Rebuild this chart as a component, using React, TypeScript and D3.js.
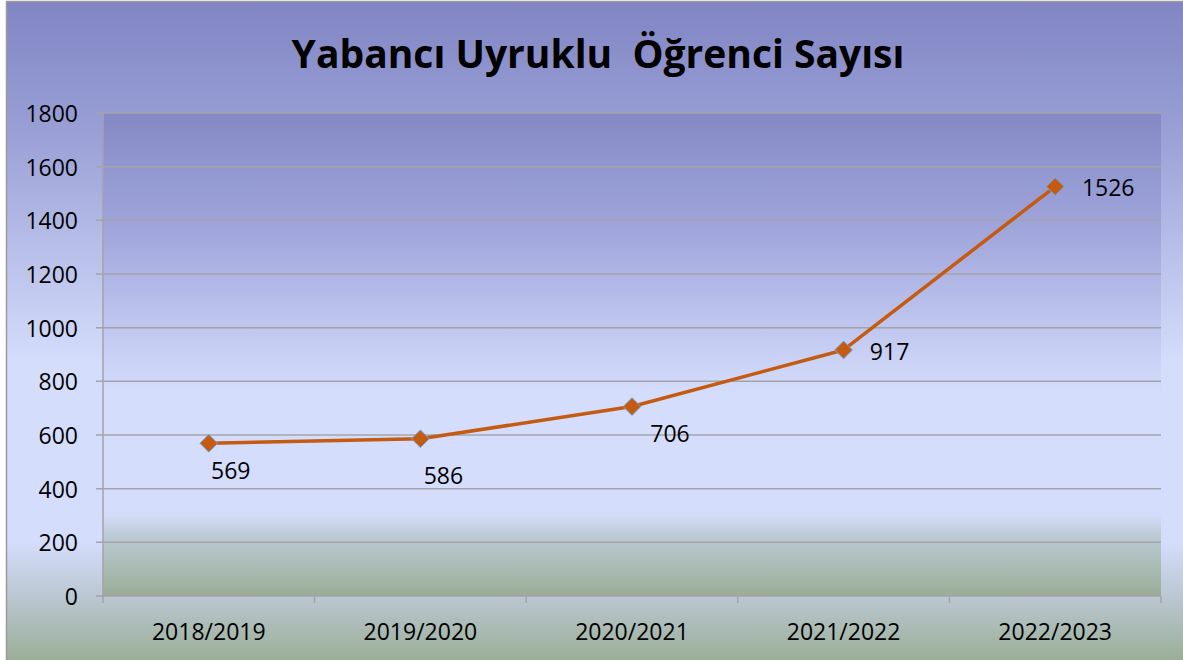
import React from "react";
import * as d3 from "d3";

const title = "Yabancı Uyruklu  Öğrenci Sayısı";
const categories = ["2018/2019", "2019/2020", "2020/2021", "2021/2022", "2022/2023"];
const values = [569, 586, 706, 917, 1526];
const yTicks = [0, 200, 400, 600, 800, 1000, 1200, 1400, 1600, 1800];
// label nudges (px) relative to the marker, as placed in the original
const labelNudge: [number, number][] = [[22, 27], [23, 36], [38, 26], [46, 1], [53, 0]];

const W = 1183, H = 660;
const plot = { left: 103, right: 1161, top: 113, bottom: 596 };
const FONT = "'Open Sans', 'Liberation Sans', sans-serif";

export default function App() {
  const x = d3.scaleBand<string>().domain(categories).range([plot.left, plot.right]).paddingInner(0).paddingOuter(0);
  const y = d3.scaleLinear().domain([0, 1800]).range([plot.bottom, plot.top]);
  const cx = (c: string) => (x(c) as number) + x.bandwidth() / 2;
  const line = d3.line<number>().x((_, i) => cx(categories[i])).y((v) => y(v));
  const boundaries = categories.map((c) => x(c) as number).concat([plot.right]);

  return (
    <svg width={W} height={H} style={{ position: "absolute", left: 0, top: 0, display: "block" }}>
      <defs>
        <linearGradient id="outerG" x1="0" y1="0" x2="0" y2="1">
          <stop offset="0" stopColor="#8085c3" />
          <stop offset="0.2" stopColor="#9aa0d6" />
          <stop offset="0.55" stopColor="#d5ddfc" />
          <stop offset="0.82" stopColor="#d5ddfc" />
          <stop offset="0.9" stopColor="#bcc8d4" />
          <stop offset="1" stopColor="#9bae97" />
        </linearGradient>
        <linearGradient id="plotG" x1="0" y1="0" x2="0" y2="1">
          <stop offset="0" stopColor="#8489c5" />
          <stop offset="0.25" stopColor="#a1a7dc" />
          <stop offset="0.58" stopColor="#d5ddfc" />
          <stop offset="0.83" stopColor="#d5ddfc" />
          <stop offset="0.88" stopColor="#bac8d2" />
          <stop offset="1" stopColor="#9aad96" />
        </linearGradient>
      </defs>
      <rect x={7} y={1} width={W - 7} height={H - 1} fill="url(#outerG)" />
      <line x1={6.5} y1={1} x2={6.5} y2={H} stroke="#9a9a9a" strokeWidth={1.5} />
      <line x1={6} y1={1.5} x2={W} y2={1.5} stroke="#9a9a9a" strokeWidth={1.5} />
      <rect x={plot.left} y={plot.top} width={plot.right - plot.left} height={plot.bottom - plot.top} fill="url(#plotG)" />

      <text x={598} y={68} textAnchor="middle" fontFamily={FONT} fontWeight="bold" fontSize={39} fill="#000" style={{ whiteSpace: "pre" }}>
        {title}
      </text>

      {yTicks.map((t) => (
        <g key={t}>
          <line x1={plot.left - 7} x2={plot.right} y1={y(t)} y2={y(t)} stroke="#a3a3a8" strokeWidth={1.5} />
          <text x={78} y={y(t)} textAnchor="end" dominantBaseline="central" fontFamily={FONT} fontSize={23} fill="#000">
            {t}
          </text>
        </g>
      ))}
      <line x1={plot.left} x2={plot.left} y1={plot.top} y2={plot.bottom} stroke="#a3a3a8" strokeWidth={1.5} />
      {boundaries.map((b, i) => (
        <line key={i} x1={b} x2={b} y1={plot.bottom} y2={plot.bottom + 7} stroke="#a3a3a8" strokeWidth={1.5} />
      ))}
      {categories.map((c) => (
        <text key={c} x={cx(c)} y={640} textAnchor="middle" fontFamily={FONT} fontSize={23} fill="#000">
          {c}
        </text>
      ))}

      <path d={line(values) || ""} fill="none" stroke="#c55a11" strokeWidth={3.5} strokeLinejoin="round" />
      {values.map((v, i) => {
        const px = cx(categories[i]);
        const py = y(v);
        return (
          <g key={i}>
            <path
              d={d3.symbol(d3.symbolDiamond2, 200)() || ""}
              transform={`translate(${px},${py})`}
              fill="#c55a11"
              stroke="#6fa8dc"
              strokeWidth={1}
            />
            <text
              x={px + labelNudge[i][0]}
              y={py + labelNudge[i][1]}
              textAnchor="middle"
              dominantBaseline="central"
              fontFamily={FONT}
              fontSize={23}
              fill="#000"
            >
              {v}
            </text>
          </g>
        );
      })}
    </svg>
  );
}
